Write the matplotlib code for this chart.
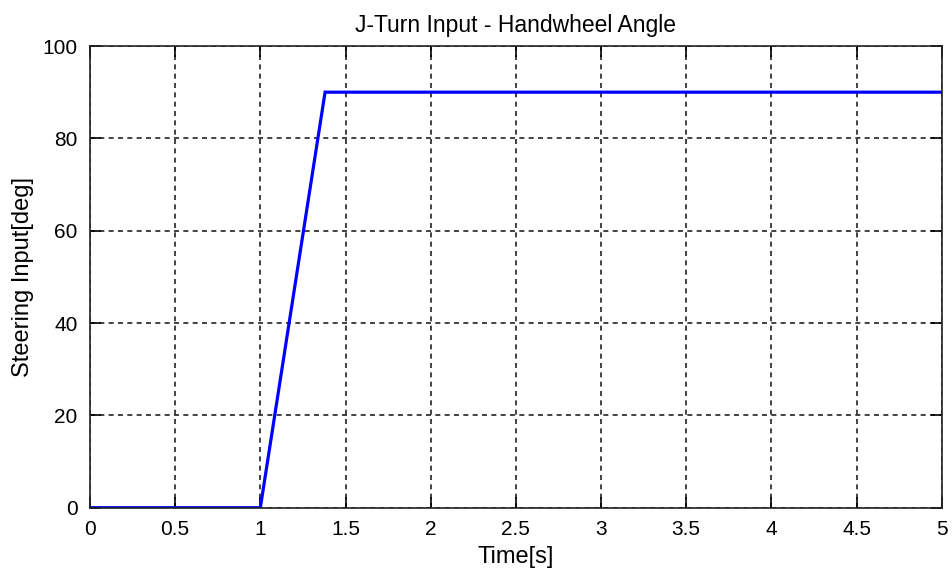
import matplotlib
matplotlib.use("Agg")
import matplotlib.pyplot as plt

# J-turn handwheel input: hold at zero, ramp up, hold at 90 deg
time_s = [0.0, 1.0, 1.38, 5.0]
steer_deg = [0.0, 0.0, 90.0, 90.0]
x_ticks = [0, 0.5, 1, 1.5, 2, 2.5, 3, 3.5, 4, 4.5, 5]
x_tick_labels = ["0", "0.5", "1", "1.5", "2", "2.5", "3", "3.5", "4", "4.5", "5"]
y_ticks = [0, 20, 40, 60, 80, 100]

plt.rcParams["font.family"] = ["Liberation Sans", "DejaVu Sans"]
plt.rcParams["font.size"] = 15

fig = plt.figure(figsize=(9.52, 5.74), dpi=100)
ax = fig.add_axes([90 / 952, 1 - 507.7 / 574, (941.7 - 90) / 952, (507.7 - 46) / 574])

ax.plot(time_s, steer_deg, color="#0000ff", linewidth=2.3, solid_joinstyle="miter")

ax.set_xlim(0, 5)
ax.set_ylim(0, 100)
ax.set_xticks(x_ticks)
ax.set_xticklabels(x_tick_labels)
ax.set_yticks(y_ticks)

ax.grid(True, color="#222222", linestyle=(0, (3, 2.6)), linewidth=1.2)
ax.tick_params(direction="in", length=8, width=1.2, top=True, right=True,
               pad=9, labelsize=15)
for sp in ax.spines.values():
    sp.set_linewidth(1.2)
    sp.set_color("#222222")

ax.set_title("J-Turn Input - Handwheel Angle", fontsize=16.5, pad=10)
ax.set_xlabel("Time[s]", fontsize=17, labelpad=5)
ax.set_ylabel("Steering Input[deg]", fontsize=17, labelpad=6)

fig.savefig("out.png", dpi=100)
